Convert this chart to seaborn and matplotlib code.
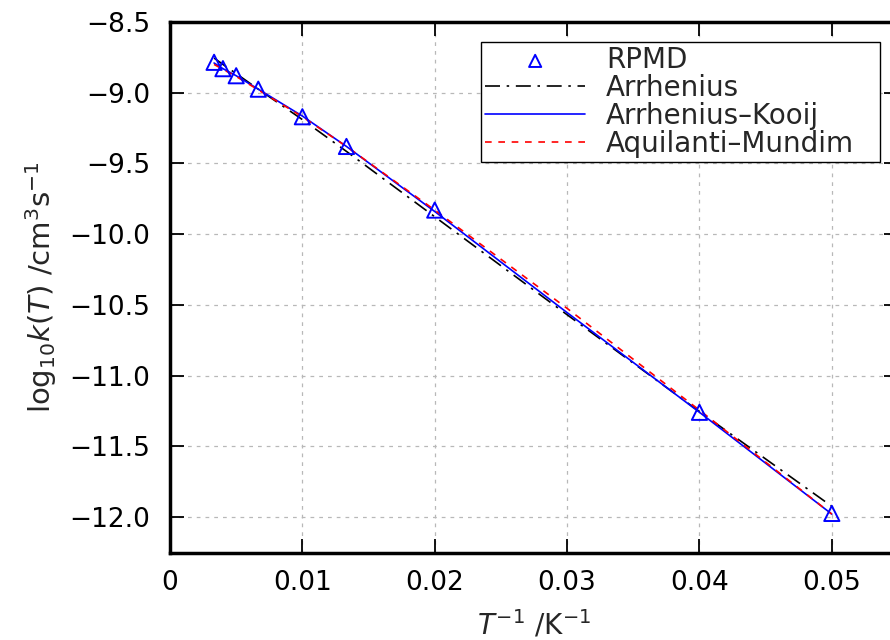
import numpy as np
import pandas as pd
import matplotlib
matplotlib.use('Agg')
import matplotlib.pyplot as plt
import seaborn as sns

# valores
inv_T = [0.00333, 0.0040, 0.0050, 0.00667, 0.0100, 0.01333, 0.0200, 0.0400, 0.0500]
rpmd = [-8.785, -8.83, -8.88, -8.975, -9.17, -9.38, -9.83, -11.26, -11.975]

x_fit = [0.00333, 0.0040, 0.0050, 0.00667, 0.0100, 0.01333, 0.0200, 0.0300, 0.0400, 0.0500]
arrhenius = [-8.755, -8.80, -8.865, -8.975, -9.19, -9.415, -9.877, -10.57, -11.255, -11.925]
kooij = [-8.79, -8.83, -8.88, -8.975, -9.165, -9.38, -9.84, -10.555, -11.26, -11.98]
aquilanti = [-8.80, -8.835, -8.885, -8.98, -9.17, -9.38, -9.83, -10.525, -11.245, -11.98]

sns.set_style("ticks")
plt.rcParams['font.family'] = ['DejaVu Sans']
plt.rcParams['mathtext.fontset'] = 'dejavusans'

fig = plt.figure(figsize=(8.9, 6.4), dpi=100)
ax = fig.add_axes([170 / 890, 87 / 640, 728 / 890, 531 / 640])

df_fit = pd.DataFrame({'x': x_fit, 'arr': arrhenius, 'kooij': kooij, 'aqm': aquilanti})
df_pts = pd.DataFrame({'x': inv_T, 'y': rpmd})

sns.scatterplot(data=df_pts, x='x', y='y', ax=ax, marker='^', s=120,
                facecolor='none', edgecolor='#0000ff', linewidth=1.4,
                label='RPMD', zorder=4)
sns.lineplot(data=df_fit, x='x', y='arr', ax=ax, color='black', lw=1.2,
             label='Arrhenius', sort=False, zorder=3)
sns.lineplot(data=df_fit, x='x', y='kooij', ax=ax, color='#0000ff', lw=1.2,
             label='Arrhenius\u2013Kooij', sort=False, zorder=3)
sns.lineplot(data=df_fit, x='x', y='aqm', ax=ax, color='#ff0000', lw=1.2,
             label='Aquilanti\u2013Mundim', sort=False, zorder=3)
ax.lines[0].set_dashes([9, 4, 1.5, 4])
ax.lines[2].set_dashes([4, 4])

ax.set_xlim(0, 0.055)
ax.set_ylim(-12.255, -8.5)
ax.set_xticks([0, 0.01, 0.02, 0.03, 0.04, 0.05])
ax.set_xticklabels(['0', '0.01', '0.02', '0.03', '0.04', '0.05'])
ax.set_yticks(np.arange(-12.0, -8.49, 0.5))
ax.set_yticklabels([f"\u2212{abs(v):.1f}" for v in np.arange(-12.0, -8.49, 0.5)])

ax.grid(True, color='#b8b8b8', linestyle=(0, (3, 4)), lw=0.9)
ax.tick_params(direction='in', length=10, width=1.3, top=True, right=True,
               labelsize=19, colors='black')
ax.tick_params(axis='y', pad=14)
ax.tick_params(axis='x', pad=12)
for s in ax.spines.values():
    s.set_linewidth(2.5)
    s.set_color('black')

ax.set_xlabel(r'$T^{-1}$ /K$^{-1}$', fontsize=20, labelpad=9)
ax.set_ylabel(r'log$_{10}$$k(T)$ /cm$^3$s$^{-1}$', fontsize=21, labelpad=8)

# caixa da legenda: px 481..880 em x, topo em 42
x0 = (481 - 170) / 728
x1 = (880 - 170) / 728
y_top = (553 - 42) / 531
leg = ax.legend(loc='upper left', bbox_to_anchor=(x0, y_top - 0.3, x1 - x0, 0.3),
                mode='expand', fontsize=20, frameon=True, fancybox=False,
                framealpha=1, edgecolor='black', handlelength=3.6,
                handletextpad=0.75, borderpad=0.15, labelspacing=0.0,
                borderaxespad=0, markerscale=0.8)
leg.get_frame().set_linewidth(1.0)

fig.savefig('out.png', dpi=100)
